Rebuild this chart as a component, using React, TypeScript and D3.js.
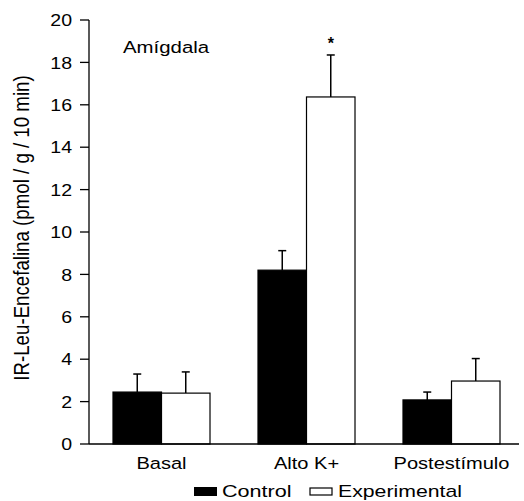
import React from 'react';
import { scaleBand, scaleLinear } from 'd3';

const categories = ['Basal', 'Alto K+', 'Postestímulo'];
const series = ['Control', 'Experimental'];
const controlValues = [2.45, 8.2, 2.08];
const controlErrors = [0.85, 0.92, 0.37];
const experimentalValues = [2.4, 16.37, 2.97];
const experimentalErrors = [1.0, 1.98, 1.06];
const yTicks = [0, 2, 4, 6, 8, 10, 12, 14, 16, 18, 20];
const fills = ['#000000', '#ffffff'];

// the scanned figure is a little stretched sideways, so text is widened
const Wide = ({ x, y, sx = 1.2, anchor = 'start', size = 17, children, dy }: any) => (
  <text
    transform={`translate(${x}, ${y}) scale(${sx}, 1)`}
    textAnchor={anchor}
    fontSize={size}
    dy={dy}
  >
    {children}
  </text>
);

const App = () => {
  const width = 524;
  const height = 501;
  const y = scaleLinear().domain([0, 20]).range([444, 20]);
  const x = scaleBand()
    .domain(categories)
    .range([89, 524])
    .paddingInner(0.331)
    .paddingOuter(0.1655);
  const xs = scaleBand().domain(series).range([0, x.bandwidth()]);

  const values = [controlValues, experimentalValues];
  const errors = [controlErrors, experimentalErrors];
  const font = 'Liberation Sans, Arial, sans-serif';

  return (
    <svg
      width={width}
      height={height}
      style={{ position: 'absolute', left: 0, top: 0 }}
      fontFamily={font}
    >
      {/* bars + error bars */}
      {series.map((s, si) =>
        categories.map((c, ci) => {
          const v = values[si][ci];
          const e = errors[si][ci];
          const bx = (x(c) || 0) + (xs(s) || 0);
          const bw = xs.bandwidth();
          const cx = bx + bw / 2;
          return (
            <g key={s + c}>
              <line x1={cx} x2={cx} y1={y(v)} y2={y(v + e)} stroke='#000' strokeWidth={1.5} />
              <line x1={cx - 4} x2={cx + 4} y1={y(v + e)} y2={y(v + e)} stroke='#000' strokeWidth={1.5} />
              <rect
                x={bx}
                y={y(v)}
                width={bw}
                height={y(0) - y(v)}
                fill={fills[si]}
                stroke='#000'
                strokeWidth={1.2}
              />
            </g>
          );
        })
      )}

      {/* significance mark */}
      <text
        x={(x('Alto K+') || 0) + (xs('Experimental') || 0) + xs.bandwidth() / 2}
        y={y(experimentalValues[1] + experimentalErrors[1]) - 6}
        textAnchor='middle'
        fontSize='16'
        fontWeight='bold'
      >
        *
      </text>

      {/* y axis */}
      <line x1={89} x2={89} y1={y(20)} y2={y(0)} stroke='#000' strokeWidth={1.3} />
      {yTicks.map((t) => (
        <g key={t}>
          <line x1={80} x2={89} y1={y(t)} y2={y(t)} stroke='#000' strokeWidth={1.3} />
          <Wide x={72} y={y(t)} dy='0.36em' anchor='end' sx={1.15}>
            {t}
          </Wide>
        </g>
      ))}

      {/* x axis */}
      <line x1={89} x2={519} y1={y(0)} y2={y(0)} stroke='#000' strokeWidth={1.3} />
      {categories.map((c) => (
        <Wide key={c} x={(x(c) || 0) + x.bandwidth() / 2} y={469} anchor='middle' sx={1.18}>
          {c}
        </Wide>
      ))}

      <text
        transform={`translate(29, 228) rotate(-90) scale(1, 1.2)`}
        textAnchor='middle'
        fontSize='18.7'
      >
        IR-Leu-Encefalina (pmol / g / 10 min)
      </text>

      <Wide x={123} y={53} sx={1.2}>
        Amígdala
      </Wide>

      {/* legend */}
      <rect x={194} y={487} width={23} height={9} fill='#000' />
      <Wide x={222} y={497} sx={1.27}>
        Control
      </Wide>
      <rect x={310} y={488} width={22} height={7} fill='#fff' stroke='#000' strokeWidth={1.2} />
      <Wide x={338} y={497} sx={1.25}>
        Experimental
      </Wide>
    </svg>
  );
};

export default App;
